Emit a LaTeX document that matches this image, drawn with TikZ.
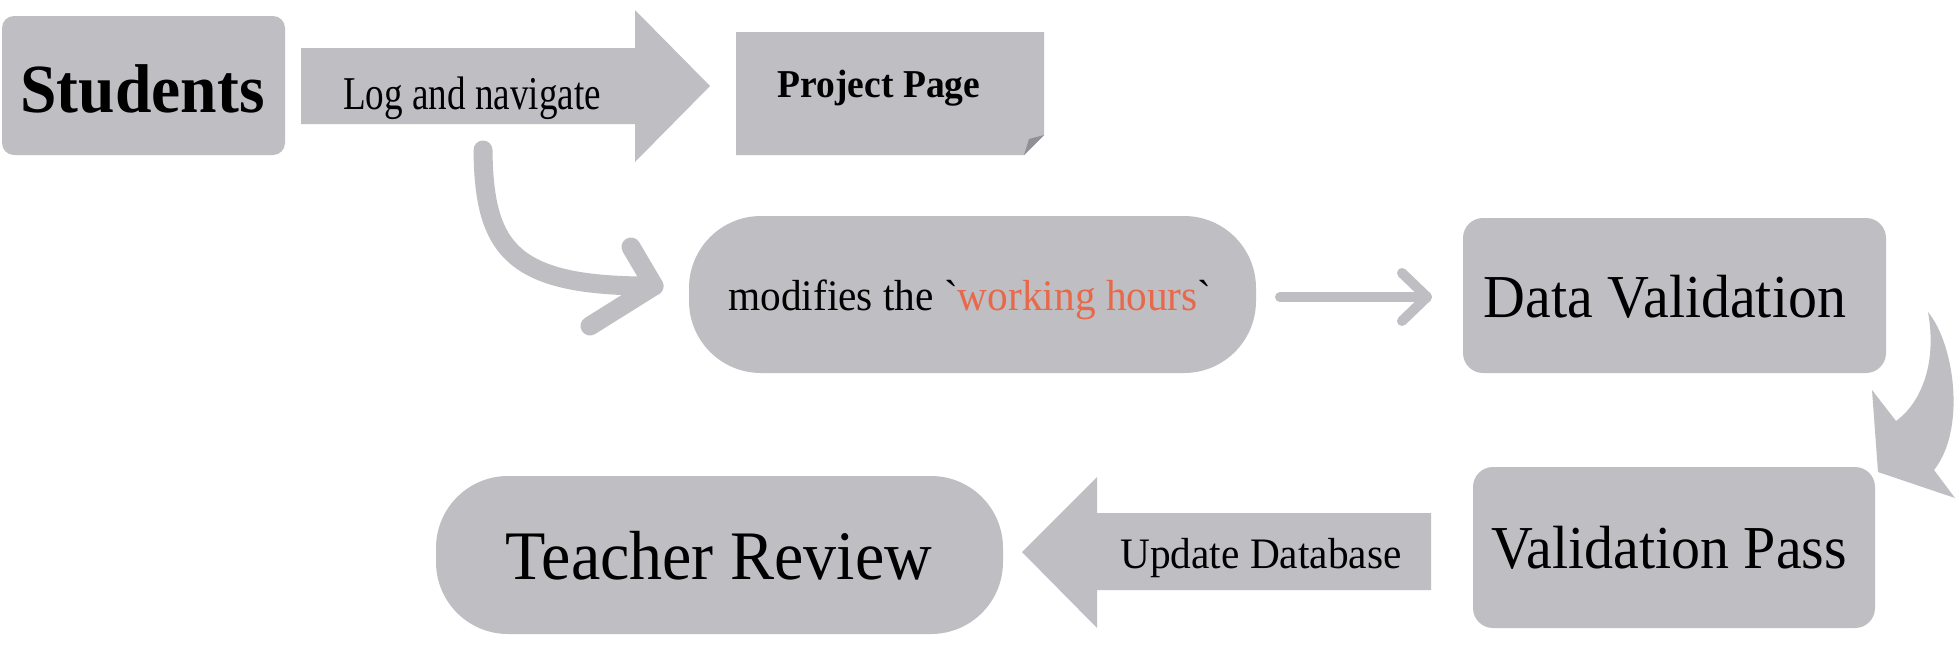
\documentclass[tikz,border=0pt]{standalone}
\usepackage{fontspec}
\setmainfont{Liberation Serif}
\newfontfamily\rawserif{Liberation Serif}
\definecolor{boxgrey}{RGB}{191,190,195}
\definecolor{folddark}{RGB}{145,144,150}
\definecolor{hourorange}{RGB}{232,104,74}
\newcommand\fsz[1]{\fontsize{#1}{#1}\selectfont}
\newcommand\cond[1]{\scalebox{0.95}[1]{#1}}
\begin{document}
\begin{tikzpicture}[x=1pt,y=-1pt,
  boxshape/.style={fill=boxgrey, draw=none, inner sep=0pt, outer sep=0pt},
  lbl/.style={inner sep=0pt, anchor=base, text=black},
  thinarrow/.style={draw=boxgrey, line cap=round, line join=round}]
\fill[white] (0,0) rectangle (1960,665);
\useasboundingbox (0,0) rectangle (1960,665);

% Students
\node[boxshape, rounded corners=12pt, minimum width=283pt, minimum height=139pt] (students) at (143.5,85.5) {};
\node[lbl] (studentsT) at (142.5,112) {\cond{\fsz{69}\bfseries Students}};

% Log and navigate block arrow
\fill[boxgrey] (301,48) -- (635,48) -- (635,10) -- (710,86) -- (635,162) -- (635,124) -- (301,124) -- cycle;
\node[lbl] (logT) at (472,109) {\scalebox{0.79}[1]{\fsz{47}Log and navigate}};

% Project Page
\fill[boxgrey] (736,32) -- (1044,32) -- (1044,135) -- (1024,155) -- (736,155) -- cycle;
\fill[folddark] (1024,155) -- (1044,135) -- (1029,139) -- cycle;
\node[lbl] (projectT) at (879,97) {\cond{\fsz{39.5}\bfseries Project Page}};

% curved connector
\coordinate (curveStart) at (483,150);
\coordinate (curveTip) at (654,286);
\draw[thinarrow, line width=19pt] (curveStart) .. controls (484,250) and (512,287) .. (curveTip);
\draw[thinarrow, line width=19pt] (631,247) -- (curveTip) -- (590,326);

% modifies
\node[boxshape, rounded corners=72pt, minimum width=567pt, minimum height=157pt] (modifies) at (972.5,294.5) {};
\node[lbl] (modT) at (970,310) {\cond{\rawserif\fsz{43.5}modifies the `\textcolor{hourorange}{working hours}`}};

% Data Validation
\node[boxshape, rounded corners=20pt, minimum width=423pt, minimum height=155pt] (dataval) at (1674.5,295.5) {};
\node[lbl] (datavalT) at (1665,317) {\cond{\fsz{61}Data Validation}};

% small arrow
\coordinate (smallStart) at (1280,297);
\coordinate (smallTip) at (1427,297);
\draw[thinarrow, line width=10pt] (smallStart) -- (smallTip);
\draw[thinarrow, line width=10pt] (1402,273) -- (smallTip) -- (1402,321);

% curved block arrow
\fill[boxgrey] (1928,312) .. controls (1955,345) and (1966,430) .. (1934,470) -- (1955,498) -- (1878,472) -- (1872,390) -- (1896,421) .. controls (1922,402) and (1937,362) .. (1928,312) -- cycle;

% Validation Pass
\node[boxshape, rounded corners=20pt, minimum width=402pt, minimum height=161pt] (valpass) at (1674,547.5) {};
\node[lbl] (valpassT) at (1669,568) {\cond{\fsz{61}Validation Pass}};

% Update Database block arrow
\fill[boxgrey] (1431,513) -- (1097,513) -- (1097,477) -- (1022,552) -- (1097,628) -- (1097,590) -- (1431,590) -- cycle;
\node[lbl] (updateT) at (1261,568) {\cond{\fsz{43.5}Update Database}};

% Teacher Review
\node[boxshape, rounded corners=72pt, minimum width=567pt, minimum height=158pt] (teacher) at (719.5,555) {};
\node[lbl] (teacherT) at (719,579) {\cond{\fsz{69.5}Teacher Review}};
\end{tikzpicture}
\end{document}
